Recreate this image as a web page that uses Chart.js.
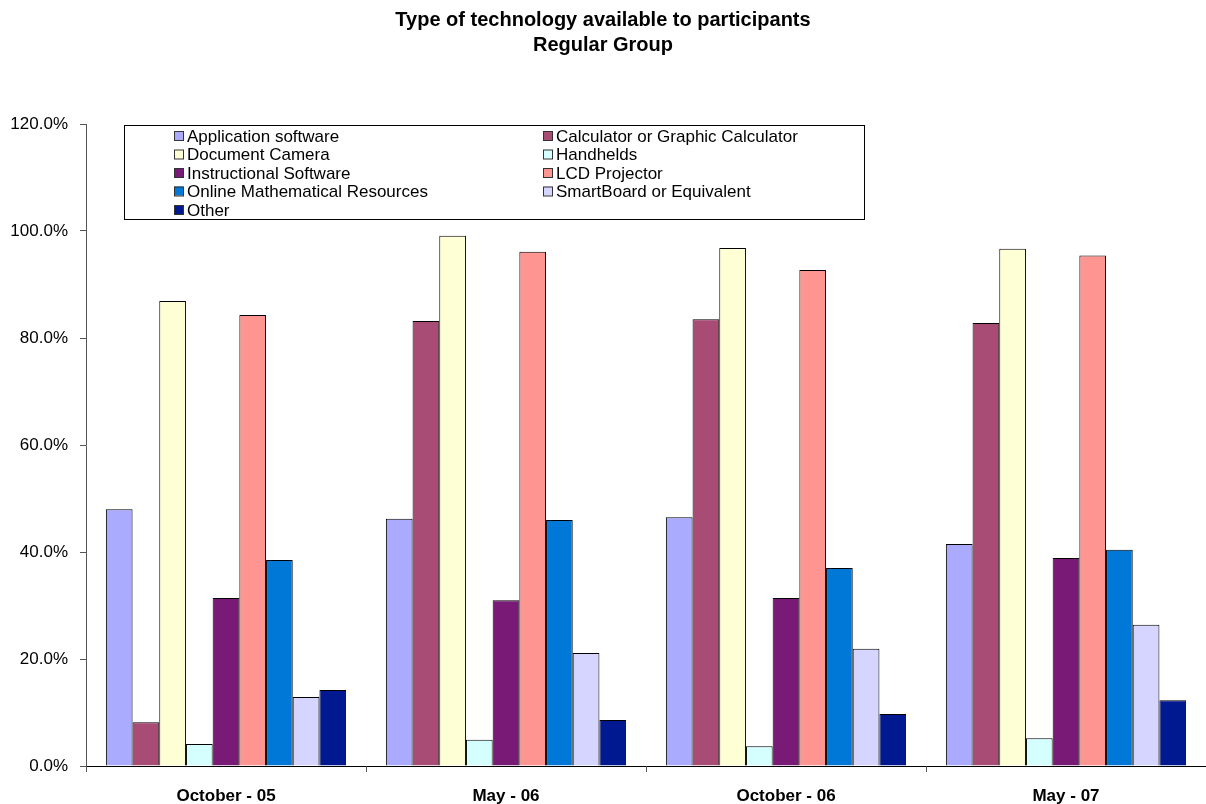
<!DOCTYPE html>
<html>
<head>
<meta charset="utf-8">
<script src="https://cdn.jsdelivr.net/npm/chart.js@4/dist/chart.umd.min.js"></script>
<style>
  html, body { margin: 0; padding: 0; background: #fff; }
  #wrap { width: 1206px; height: 804px; }
</style>
</head>
<body>
<div id="wrap"><canvas id="chart" width="1206" height="804"></canvas></div>
<script>
// categorias e séries (valores em %)
const categories = ["October - 05", "May - 06", "October - 06", "May - 07"];
const seriesNames = [
    "Application software", "Calculator or Graphic Calculator",
    "Document Camera", "Handhelds",
    "Instructional Software", "LCD Projector",
    "Online Mathematical Resources", "SmartBoard or Equivalent",
    "Other"
];
const appSoftware   = [48.0, 46.2, 46.5, 41.5];
const calculator    = [8.2, 83.2, 83.5, 82.8];
const docCamera     = [86.9, 99.1, 96.8, 96.7];
const handhelds     = [4.1, 4.9, 3.7, 5.2];
const instructional = [31.4, 31.0, 31.4, 38.9];
const lcdProjector  = [84.3, 96.1, 92.7, 95.4];
const onlineMath    = [38.5, 46.0, 37.0, 40.4];
const smartBoard    = [12.9, 21.1, 21.9, 26.4];
const other         = [14.2, 8.6, 9.7, 12.3];
const yTicks = [0, 20, 40, 60, 80, 100, 120];

const seriesValues = [appSoftware, calculator, docCamera, handhelds, instructional, lcdProjector, onlineMath, smartBoard, other];
const colors = ['#AAAAFF', '#A84B75', '#FFFFD5', '#D5FFFF', '#7A1A77', '#FF9590', '#0078D7', '#D5D5FF', '#001890'];

const FONT = '"Liberation Sans", Arial, sans-serif';

// legenda desenhada dentro da área do gráfico, em duas colunas
const boxLegend = {
    id: 'boxLegend',
    afterDatasetsDraw(chart) {
        const ctx = chart.ctx;
        const area = chart.chartArea;
        const x0 = area.left + 38, y0 = area.top + 1, w = 740, h = 94;
        ctx.save();
        ctx.fillStyle = '#fff';
        ctx.fillRect(x0, y0, w, h);
        ctx.strokeStyle = '#000';
        ctx.lineWidth = 1;
        ctx.strokeRect(x0 + 0.5, y0 + 0.5, w, h);
        ctx.font = '17px ' + FONT;
        ctx.textBaseline = 'middle';
        chart.data.datasets.forEach((ds, i) => {
            const col = i % 2, row = Math.floor(i / 2);
            const sx = x0 + (col === 0 ? 50 : 419);
            const cy = y0 + 11 + row * 18.5;
            ctx.fillStyle = ds.backgroundColor;
            ctx.fillRect(sx, cy - 5, 9, 9);
            ctx.strokeStyle = '#333';
            ctx.strokeRect(sx + 0.5, cy - 4.5, 9, 9);
            ctx.fillStyle = '#000';
            ctx.fillText(ds.label, sx + 13, cy + 1);
        });
        ctx.restore();
    }
};

const datasets = seriesNames.map((name, i) => ({
    label: name,
    data: seriesValues[i],
    backgroundColor: colors[i],
    borderColor: '#000',
    borderWidth: 1,
    barPercentage: 1,
    categoryPercentage: 0.858
}));

const ctx = document.getElementById('chart').getContext('2d');
const chart = new Chart(ctx, {
    type: 'bar',
    data: { labels: categories, datasets: datasets },
    plugins: [boxLegend],
    options: {
        responsive: false,
        animation: false,
        layout: { padding: { left: 0, right: 0, top: 0, bottom: 0 } },
        plugins: {
            legend: { display: false },
            tooltip: { enabled: false },
            title: {
                display: true,
                text: ["Type of technology available to participants", "Regular Group"],
                color: '#000',
                font: { family: FONT, size: 20, weight: 'bold', lineHeight: 1.25 },
                padding: { top: 8, bottom: 66 }
            }
        },
        scales: {
            x: {
                grid: { drawOnChartArea: false, color: '#555', tickLength: 6, offset: true },
                border: { color: '#000', width: 1 },
                ticks: { color: '#000', padding: 14, font: { family: FONT, size: 17, weight: 'bold' } },
                afterFit(scale) { scale.height = 38; }
            },
            y: {
                min: 0,
                max: 120,
                afterBuildTicks(scale) { scale.ticks = yTicks.map(v => ({ value: v })); },
                grid: { drawOnChartArea: false, color: '#555', tickLength: 6 },
                border: { color: '#555', width: 1 },
                ticks: {
                    color: '#000',
                    padding: 12,
                    font: { family: FONT, size: 17 },
                    callback: v => v.toFixed(1) + '%'
                },
                afterFit(scale) { scale.width = 86; }
            }
        }
    }
});
</script>
</body>
</html>
